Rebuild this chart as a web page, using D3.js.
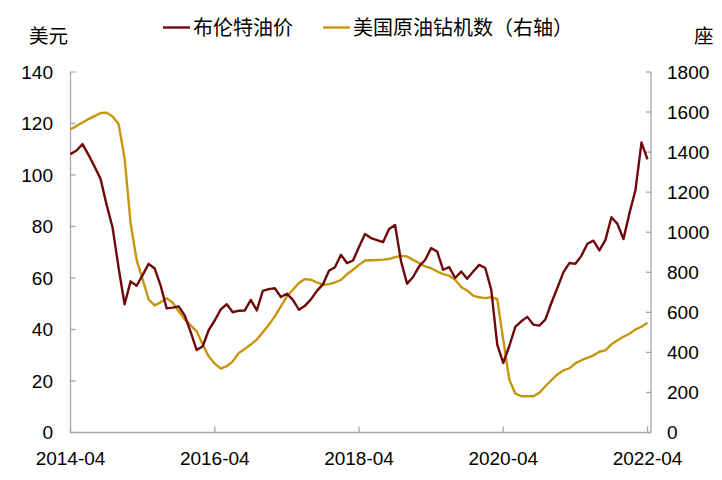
<!DOCTYPE html>
<html><head><meta charset="utf-8">
<script src="https://cdn.jsdelivr.net/npm/d3@7"></script>
<style>
html,body{margin:0;padding:0;background:#fff;}
svg{display:block;font-family:"Liberation Sans",Arial,"Noto Sans CJK SC",sans-serif;}
</style></head>
<body>
<svg id="chart" width="722" height="480"></svg>
<script>
// Monthly, 2014-04 .. 2022-04
const startMonth = "2014-04";
const brent = [
  108.1,109.5,112.0,107.8,103.3,98.5,88.5,79.6,64.0,
  49.8,58.7,57.0,61.1,65.5,63.7,57.0,48.2,48.5,49.0,45.5,39.0,
  32.0,33.5,39.8,43.5,47.8,49.8,46.7,47.3,47.4,51.5,47.4,55.0,
  55.7,56.0,52.6,53.9,51.5,47.7,49.2,51.7,55.0,57.5,62.8,64.2,
  69.0,65.8,66.8,72.0,77.1,75.5,74.7,73.9,79.0,80.6,66.4,57.8,
  60.4,64.5,67.0,71.6,70.3,63.2,64.2,60.0,62.5,59.7,62.5,65.1,
  63.9,55.5,34.1,27.0,33.5,41.0,43.2,44.9,41.9,41.5,43.8,50.3,
  56.1,62.2,65.8,65.5,68.6,73.3,74.5,70.7,74.8,83.6,81.0,75.1,
  85.2,94.2,112.6,106.1
];
const rigs = [
  1514,1530,1548,1565,1580,1595,1597,1578,1540,
  1370,1045,862,765,665,635,650,671,648,605,565,535,
  505,439,380,344,319,331,355,397,417,439,464,500,
  538,580,630,680,713,746,766,763,749,738,741,749,
  762,790,813,837,859,860,861,863,866,876,882,879,
  862,846,829,820,804,791,783,763,726,709,683,675,
  671,676,666,464,265,195,181,181,181,198,231,261,
  290,310,320,345,361,373,385,403,410,440,461,478,
  493,515,528,548
];
const xTickLabels = ["2014-04","2016-04","2018-04","2020-04","2022-04"];
const leftTicks = [0,20,40,60,80,100,120,140];
const rightTicks = [0,200,400,600,800,1000,1200,1400,1600,1800];
const seriesNames = ["布伦特油价","美国原油钻机数（右轴）"];
const leftUnit = "美元", rightUnit = "座";

const colBrent = "#6e0a0c", colRig = "#c8960e", axisCol = "#a6a6a6";
const svg = d3.select("#chart");
const L = 70.5, R = 651, T = 72, B = 432.5, lastX = 647.5;

const x = d3.scaleLinear().domain([0, brent.length-1]).range([L, lastX]);
const yL = d3.scaleLinear().domain([0,140]).range([B,T]);
const yR = d3.scaleLinear().domain([0,1800]).range([B,T]);

// axes lines
const ax = svg.append("g").attr("stroke", axisCol).attr("stroke-width",1.3).attr("fill","none");
ax.append("line").attr("x1",L).attr("x2",L).attr("y1",T).attr("y2",B);
ax.append("line").attr("x1",R).attr("x2",R).attr("y1",T).attr("y2",B);
ax.append("line").attr("x1",L).attr("x2",R).attr("y1",B).attr("y2",B);
leftTicks.forEach(v=>ax.append("line").attr("x1",L).attr("x2",L+5).attr("y1",yL(v)).attr("y2",yL(v)));
rightTicks.forEach(v=>ax.append("line").attr("x1",R).attr("x2",R-5).attr("y1",yR(v)).attr("y2",yR(v)));
xTickLabels.forEach((t,i)=>ax.append("line").attr("x1",x(i*24)).attr("x2",x(i*24)).attr("y1",B).attr("y2",B-6));

const txt = svg.append("g").attr("fill","#000").attr("font-size",19);
leftTicks.forEach(v=>txt.append("text").attr("x",53).attr("y",yL(v)).attr("dy","0.35em").attr("text-anchor","end").text(v));
rightTicks.forEach(v=>txt.append("text").attr("x",667).attr("y",yR(v)).attr("dy","0.35em").attr("text-anchor","start").text(v));
xTickLabels.forEach((t,i)=>txt.append("text").attr("x",x(i*24)).attr("y",458).attr("dy","0.35em").attr("text-anchor","middle").text(t));
txt.append("text").attr("x",29).attr("y",36).attr("dy","0.35em").attr("font-size",19.5).text(leftUnit);
txt.append("text").attr("x",694).attr("y",36).attr("dy","0.35em").attr("font-size",19.5).text(rightUnit);

// lines
const lineL = d3.line().x((d,i)=>x(i)).y(d=>yL(d));
const lineR = d3.line().x((d,i)=>x(i)).y(d=>yR(d));
svg.append("path").datum(rigs).attr("d",lineR).attr("fill","none").attr("stroke",colRig).attr("stroke-width",2.4).attr("stroke-linejoin","round");
svg.append("path").datum(brent).attr("d",lineL).attr("fill","none").attr("stroke",colBrent).attr("stroke-width",2.4).attr("stroke-linejoin","round");

// legend
const lg = svg.append("g");
const legendItems = [{name:seriesNames[0],col:colBrent,x:163},{name:seriesNames[1],col:colRig,x:323}];
legendItems.forEach(it=>{
  lg.append("line").attr("x1",it.x).attr("x2",it.x+27).attr("y1",27.5).attr("y2",27.5).attr("stroke",it.col).attr("stroke-width",2.4);
  lg.append("text").attr("x",it.x+30).attr("y",27.5).attr("dy","0.35em").attr("font-size",20).text(it.name);
});
</script>
</body></html>
